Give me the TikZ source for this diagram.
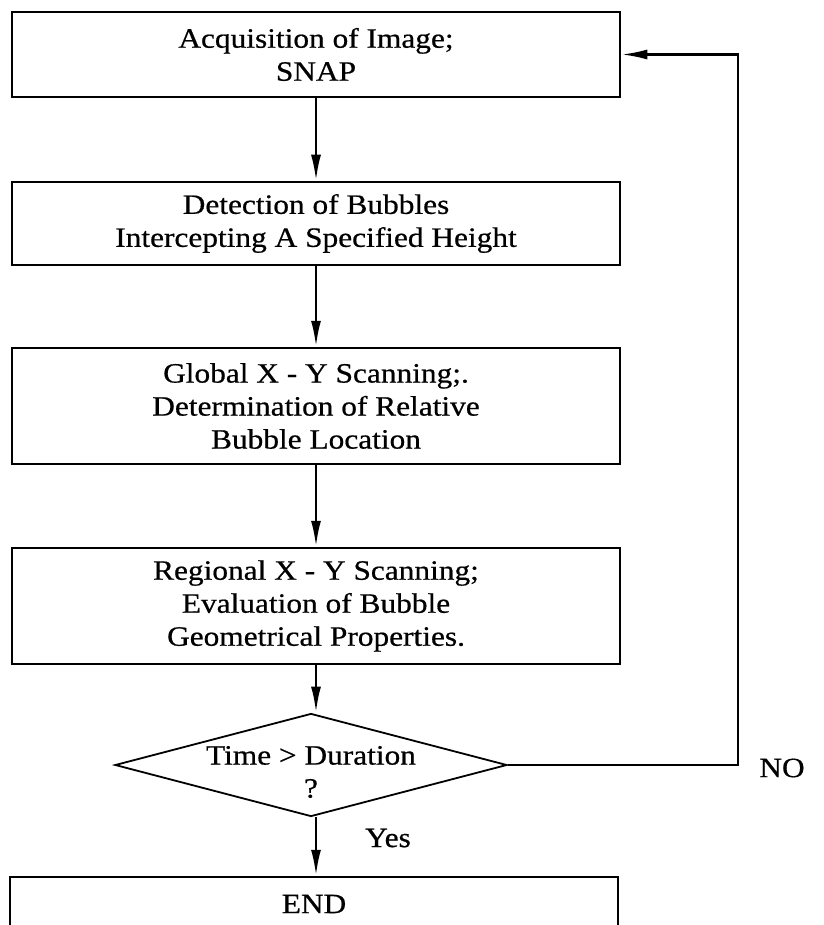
\documentclass[tikz,border=0pt]{standalone}
\usepackage{fontspec}
\setmainfont[FakeStretch=1.12,FakeBold=0.6]{Liberation Serif}
\usetikzlibrary{arrows.meta,shapes.geometric}
\begin{document}
\begin{tikzpicture}[x=1pt,y=-1pt,
  stepbox/.style={draw,line width=2.5pt,rectangle,minimum width=608pt,inner sep=0pt,align=center,
    font=\fontsize{28}{33}\selectfont},
  lbl/.style={inner sep=0pt,font=\fontsize{28}{33}\selectfont,align=center},
  arr/.style={line width=2.5pt,-{Latex[length=26pt,width=10pt]}},
  plain/.style={line width=2.5pt}]
\useasboundingbox (0,0) rectangle (823,925);
\clip (0,0) rectangle (823,925);
\node[stepbox,minimum height=85pt] (b1) at (316,54.5) {Acquisition of Image;\\SNAP};
\node[stepbox,minimum height=83pt] (b2) at (316,223.5) {Detection of Bubbles\\Intercepting A Specified Height};
\node[stepbox,minimum height=116pt] (b3) at (316,406) {Global X - Y Scanning;.\\Determination of Relative\\Bubble Location};
\node[stepbox,minimum height=116pt] (b4) at (316,606) {Regional X - Y Scanning;\\Evaluation of Bubble\\Geometrical Properties.};
\node[draw,line width=1.8pt,shape=diamond,minimum width=392pt,minimum height=103pt,aspect=3.8,inner sep=0pt] (d) at (311,765) {};
\node[lbl] (dt) at (311,772) {Time > Duration\\?};
\node[stepbox,minimum height=54pt] (e) at (314,904) {END};
\coordinate (loopx) at (738,0);
\node[lbl] (no) at (782,768) {NO};
\node[lbl] (yes) at (388,838) {Yes};
\draw[arr] (b1.south) -- (b2.north);
\draw[arr] (b2.south) -- (b3.north);
\draw[arr] (b3.south) -- (b4.north);
\draw[arr] (b4.south) -- (d.north -| b4.south);
\draw[arr] (d.south -| b4.south) -- (e.north -| b4.south);
\draw[arr] (d.east) -- (d.east -| loopx) -- (loopx |- b1.east) -- (b1.east);
\end{tikzpicture}
\end{document}
